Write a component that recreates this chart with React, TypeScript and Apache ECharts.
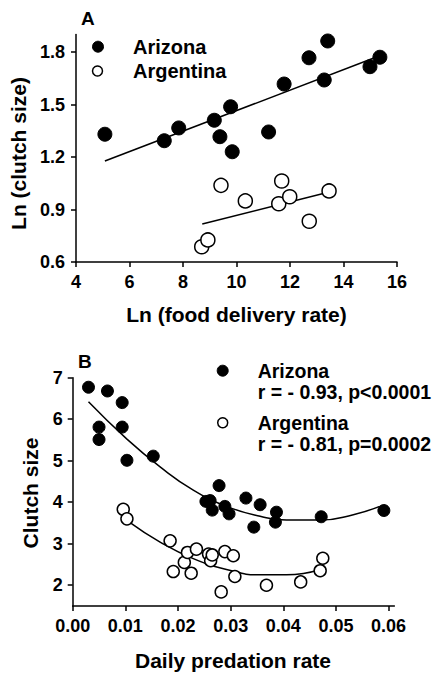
import React, { useEffect, useRef } from "react";
import * as echarts from "echarts";

// Panel A: Ln(food delivery rate) vs Ln(clutch size)
const azFoodX = [5.08, 7.3, 7.84, 9.17, 9.38, 9.78, 9.84, 11.2, 11.78, 12.71, 13.41, 13.28, 14.99, 15.36];
const azFoodY = [1.33, 1.293, 1.366, 1.41, 1.316, 1.487, 1.23, 1.343, 1.617, 1.767, 1.863, 1.64, 1.716, 1.77];
const arFoodX = [8.7, 8.93, 9.42, 10.33, 11.58, 11.69, 11.99, 12.72, 13.46];
const arFoodY = [0.687, 0.726, 1.038, 0.949, 0.933, 1.063, 0.973, 0.833, 1.006];
const azFoodFitX = [5.08, 15.11];
const azFoodFitY = [1.177, 1.764];
const arFoodFitX = [8.72, 13.43];
const arFoodFitY = [0.817, 0.998];

// Panel B: daily predation rate vs clutch size
const azPredX = [0.003, 0.005, 0.005, 0.0066, 0.0094, 0.0094, 0.0103, 0.0153, 0.0253, 0.0261, 0.0265, 0.0278, 0.0289, 0.0297, 0.0329, 0.0344, 0.0356, 0.0387, 0.0385, 0.0472, 0.0591];
const azPredY = [6.77, 5.81, 5.51, 6.68, 6.4, 5.81, 5.01, 5.11, 4.02, 4.04, 3.81, 4.4, 3.9, 3.72, 4.1, 3.4, 3.94, 3.76, 3.52, 3.65, 3.8];
const arPredX = [0.0096, 0.0103, 0.0185, 0.0191, 0.0212, 0.0218, 0.0225, 0.0235, 0.0258, 0.0262, 0.0265, 0.0282, 0.0289, 0.0305, 0.0308, 0.0368, 0.0433, 0.047, 0.0475];
const arPredY = [3.83, 3.6, 3.07, 2.33, 2.55, 2.79, 2.29, 2.87, 2.75, 2.59, 2.73, 1.84, 2.81, 2.71, 2.21, 2.0, 2.08, 2.35, 2.65];
const azPredFitX = [0.003, 0.0103, 0.0166, 0.0229, 0.0292, 0.0356, 0.0406, 0.047, 0.0533, 0.0583];
const azPredFitY = [6.42, 5.52, 4.85, 4.29, 3.9, 3.66, 3.57, 3.57, 3.7, 3.9];
const arPredFitX = [0.0109, 0.0166, 0.0229, 0.0292, 0.0356, 0.0406, 0.047];
const arPredFitY = [3.51, 3.04, 2.64, 2.38, 2.25, 2.25, 2.38];

const xTicksA = [4, 6, 8, 10, 12, 14, 16];
const yTicksA = [0.6, 0.9, 1.2, 1.5, 1.8];
const xTicksB = [0, 0.01, 0.02, 0.03, 0.04, 0.05, 0.06];
const yTicksB = [2, 3, 4, 5, 6, 7];

const labelsA = ["Arizona", "Argentina"];
const statsB = ["r = - 0.93, p<0.0001", "r = - 0.81, p=0.0002"];

const FONT = "'Liberation Sans', Arial, Helvetica, sans-serif";

const zip = (xs: number[], ys: number[]) => xs.map((x, i) => [x, ys[i]]);

function axisCommon(ticks: number[], fmt: (v: number) => string, margin: number) {
  return {
    axisLine: { show: true, onZero: false, lineStyle: { color: "#000", width: 1.5 } },
    axisTick: { show: true, length: 5, inside: false, lineStyle: { color: "#000", width: 1.5 }, customValues: ticks },
    axisLabel: {
      color: "#000",
      fontFamily: FONT,
      fontWeight: "bold",
      fontSize: 18,
      margin,
      customValues: ticks,
      formatter: (v: number) => fmt(v),
    },
    splitLine: { show: false },
  };
}

export default function App() {
  const ref = useRef<HTMLDivElement>(null);
  useEffect(() => {
    if (!ref.current) return;
    const chart = echarts.init(ref.current, null, { renderer: "svg" });
    const filled = { color: "#000", borderColor: "#000", borderWidth: 1, opacity: 1 };
    const open = { color: "#fff", borderColor: "#000", borderWidth: 1.5, opacity: 1 };
    const fitLine = { color: "#000", width: 1.5 };
    const txt = (text: string, x: number, y: number, size: number, extra: any = {}) => ({
      type: "text",
      x,
      y,
      ...extra,
      style: {
        text,
        fontFamily: FONT,
        fontWeight: "bold",
        fontSize: size,
        fill: "#000",
        align: extra.align || "left",
        verticalAlign: "middle",
      },
    });
    chart.setOption({
      animation: false,
      backgroundColor: "#fff",
      grid: [
        { left: 76, top: 34.5, width: 321, height: 227.5 },
        { left: 72.7, top: 377.7, width: 321.7, height: 228.3 },
      ],
      xAxis: [
        { type: "value", gridIndex: 0, min: 4, max: 16, interval: 2, ...axisCommon(xTicksA, (v) => String(v), 11) },
        {
          type: "value",
          gridIndex: 1,
          min: 0,
          max: 0.0611,
          interval: 0.01,
          ...axisCommon(xTicksB, (v) => v.toFixed(2), 11),
        },
      ],
      yAxis: [
        { type: "value", gridIndex: 0, min: 0.6, max: 1.9, interval: 0.3, ...axisCommon(yTicksA, (v) => v.toFixed(1), 11) },
        { type: "value", gridIndex: 1, min: 1.5, max: 7, interval: 0.5, ...axisCommon(yTicksB, (v) => String(v), 10) },
      ],
      series: [
        { type: "line", xAxisIndex: 0, yAxisIndex: 0, data: zip(azFoodFitX, azFoodFitY), showSymbol: false, lineStyle: fitLine, z: 1 },
        { type: "line", xAxisIndex: 0, yAxisIndex: 0, data: zip(arFoodFitX, arFoodFitY), showSymbol: false, lineStyle: fitLine, z: 1 },
        { type: "scatter", xAxisIndex: 0, yAxisIndex: 0, data: zip(azFoodX, azFoodY), symbolSize: 14, itemStyle: filled, z: 3 },
        { type: "scatter", xAxisIndex: 0, yAxisIndex: 0, data: zip(arFoodX, arFoodY), symbolSize: 14, itemStyle: open, z: 3 },
        {
          type: "line",
          xAxisIndex: 1,
          yAxisIndex: 1,
          data: zip(azPredFitX, azPredFitY),
          smooth: 0.5,
          showSymbol: false,
          lineStyle: fitLine,
          z: 1,
        },
        {
          type: "line",
          xAxisIndex: 1,
          yAxisIndex: 1,
          data: zip(arPredFitX, arPredFitY),
          smooth: 0.5,
          showSymbol: false,
          lineStyle: fitLine,
          z: 1,
        },
        { type: "scatter", xAxisIndex: 1, yAxisIndex: 1, data: zip(azPredX, azPredY), symbolSize: 12, itemStyle: filled, z: 3 },
        { type: "scatter", xAxisIndex: 1, yAxisIndex: 1, data: zip(arPredX, arPredY), symbolSize: 12, itemStyle: open, z: 3 },
      ],
      graphic: [
        txt("A", 81, 18.5, 19),
        txt("B", 78, 361.5, 19),
        txt("Ln (clutch size)", 18, 153.5, 21, { rotation: Math.PI / 2, align: "center" }),
        txt("Ln (food delivery rate)", 236.5, 314, 21, { align: "center" }),
        txt("Clutch size", 30, 493, 21, { rotation: Math.PI / 2, align: "center" }),
        txt("Daily predation rate", 233, 660.5, 21, { align: "center" }),
        { type: "circle", shape: { cx: 98, cy: 46.7, r: 5.5 }, style: { fill: "#000", stroke: "#000", lineWidth: 1 } },
        { type: "circle", shape: { cx: 97.5, cy: 71, r: 5 }, style: { fill: "#fff", stroke: "#000", lineWidth: 1.5 } },
        txt(labelsA[0], 133, 46.7, 20),
        txt(labelsA[1], 133, 71, 20),
        { type: "circle", shape: { cx: 222.7, cy: 370.7, r: 5.5 }, style: { fill: "#000", stroke: "#000", lineWidth: 1 } },
        { type: "circle", shape: { cx: 222.7, cy: 422.7, r: 5 }, style: { fill: "#fff", stroke: "#000", lineWidth: 1.5 } },
        txt(labelsA[0], 257.7, 370.7, 19.5),
        txt(statsB[0], 257.7, 391.7, 19.5),
        txt(labelsA[1], 257.7, 422.7, 19.5),
        txt(statsB[1], 257.7, 444.3, 19.5),
      ],
    });
    return () => chart.dispose();
  }, []);
  return <div ref={ref} style={{ position: "absolute", left: 0, top: 0, width: 436, height: 673 }} />;
}
